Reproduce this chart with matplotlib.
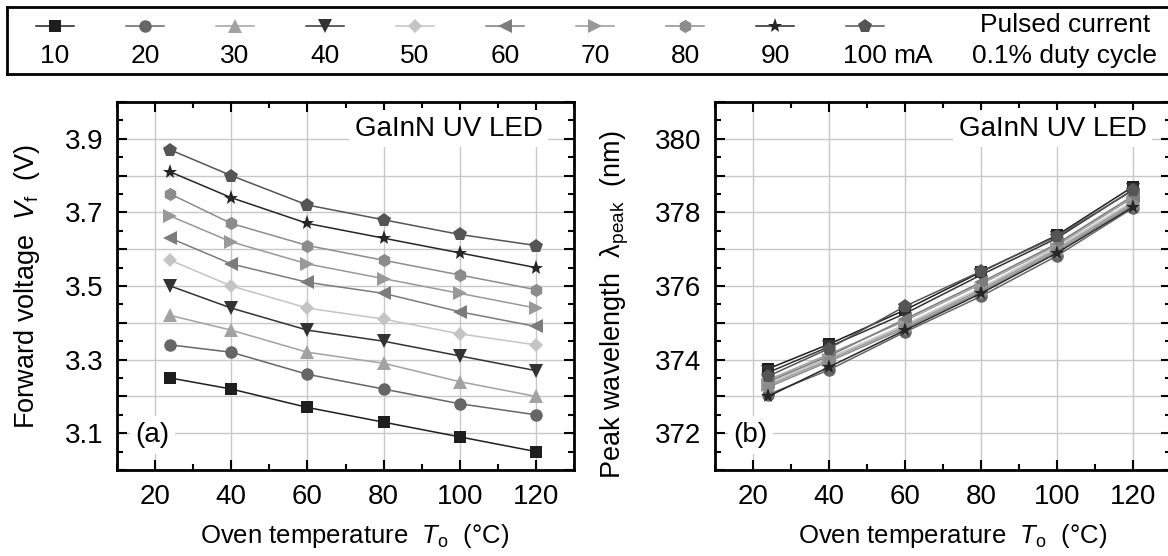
import matplotlib
matplotlib.use('Agg')
import matplotlib.pyplot as plt
from matplotlib.ticker import MultipleLocator, FuncFormatter

plt.rcParams['font.family'] = ['Liberation Sans', 'DejaVu Sans']
plt.rcParams['mathtext.fontset'] = 'custom'
plt.rcParams['mathtext.rm'] = 'Liberation Sans'
plt.rcParams['mathtext.it'] = 'Liberation Sans:italic'

# oven temperatures (deg C)
temps = [24, 40, 60, 80, 100, 120]
currents = [10, 20, 30, 40, 50, 60, 70, 80, 90, 100]

# forward voltage (V) per current
vf_10 = [3.25, 3.22, 3.17, 3.13, 3.09, 3.05]
vf_20 = [3.34, 3.32, 3.26, 3.22, 3.18, 3.15]
vf_30 = [3.42, 3.38, 3.32, 3.29, 3.24, 3.20]
vf_40 = [3.50, 3.44, 3.38, 3.35, 3.31, 3.27]
vf_50 = [3.57, 3.50, 3.44, 3.41, 3.37, 3.34]
vf_60 = [3.63, 3.56, 3.51, 3.48, 3.43, 3.39]
vf_70 = [3.69, 3.62, 3.56, 3.52, 3.48, 3.44]
vf_80 = [3.75, 3.67, 3.61, 3.57, 3.53, 3.49]
vf_90 = [3.81, 3.74, 3.67, 3.63, 3.59, 3.55]
vf_100 = [3.87, 3.80, 3.72, 3.68, 3.64, 3.61]

# peak wavelength (nm) per current
lp_10 = [373.75, 374.42, 375.35, 376.38, 377.38, 378.70]
lp_20 = [373.05, 373.72, 374.75, 375.72, 376.82, 378.12]
lp_30 = [373.45, 374.15, 375.05, 376.05, 377.10, 378.40]
lp_40 = [373.65, 374.35, 375.25, 376.30, 377.30, 378.62]
lp_50 = [373.35, 374.05, 374.95, 375.95, 377.05, 378.30]
lp_60 = [373.40, 374.10, 375.10, 376.10, 377.15, 378.45]
lp_70 = [373.30, 374.00, 374.90, 375.90, 377.00, 378.25]
lp_80 = [373.25, 373.95, 374.85, 375.85, 376.95, 378.20]
lp_90 = [373.00, 373.80, 374.80, 375.80, 376.90, 378.15]
lp_100 = [373.55, 374.30, 375.45, 376.40, 377.35, 378.60]

vf_all = [vf_10, vf_20, vf_30, vf_40, vf_50, vf_60, vf_70, vf_80, vf_90, vf_100]
lp_all = [lp_10, lp_20, lp_30, lp_40, lp_50, lp_60, lp_70, lp_80, lp_90, lp_100]

markers = ['s', 'o', '^', 'v', 'D', '<', '>', 'h', '*', 'p']
msizes = [8, 9, 9.5, 9.5, 7, 9.5, 9.5, 9.5, 11, 10.5]
colors = ['#1e1e1e', '#666666', '#a2a2a2', '#333333', '#c4c4c4',
          '#7c7c7c', '#999999', '#8c8c8c', '#262626', '#555555']

fig = plt.figure(figsize=(11.68, 5.56), dpi=100)
ax_a = fig.add_axes([117 / 1168, 1 - 470 / 556, 457 / 1168, 368 / 556])
ax_b = fig.add_axes([715 / 1168, 1 - 470 / 556, 456 / 1168, 368 / 556])


def style_axis(ax, ystep, ymin, ymax, label_every):
    ax.set_xlim(10, 130)
    ax.set_ylim(ymin, ymax)
    ax.xaxis.set_major_locator(MultipleLocator(20))
    ax.xaxis.set_minor_locator(MultipleLocator(10))
    ax.yaxis.set_major_locator(MultipleLocator(ystep))
    ax.yaxis.set_minor_locator(MultipleLocator(ystep / 2))
    ax.yaxis.set_major_formatter(FuncFormatter(label_every))
    ax.grid(True, which='major', color='#c8c8c8', lw=1)
    ax.set_axisbelow(True)
    ax.tick_params(which='both', direction='in', top=True, right=True,
                   width=1.5, labelsize=20)
    ax.tick_params(which='major', length=7, pad=10)
    ax.tick_params(which='minor', length=4)
    for sp in ax.spines.values():
        sp.set_linewidth(2)
    ax.set_xlabel('Oven temperature  $T_\\mathrm{o}$  (°C)', fontsize=18.5)
    ax.xaxis.set_label_coords(0.52, -0.14)


for vals, m, ms, c in zip(vf_all, markers, msizes, colors):
    ax_a.plot(temps, vals, color=c, marker=m, markersize=ms, lw=1.1,
              markeredgewidth=0)
for vals, m, ms, c in zip(lp_all, markers, msizes, colors):
    ax_b.plot(temps, vals, color=c, marker=m, markersize=ms, lw=1.1,
              markeredgewidth=0)

style_axis(ax_a, 0.1, 3.0, 4.0,
           lambda v, p: f'{v:.1f}' if round(v * 10) % 2 == 1 else '')
style_axis(ax_b, 1, 371, 381,
           lambda v, p: f'{v:.0f}' if round(v) % 2 == 0 else '')

ax_a.set_ylabel('Forward voltage  $V_\\mathrm{f}$  (V)', fontsize=19.5)
ax_a.yaxis.set_label_coords(-0.165, 0.50)
ax_b.set_ylabel('Peak wavelength  λ$_\\mathrm{peak}$  (nm)', fontsize=19.5)
ax_b.yaxis.set_label_coords(-0.185, 0.45)

box = dict(facecolor='white', edgecolor='none', pad=4)
for ax, tag, tx in [(ax_a, '(a)', 0.932), (ax_b, '(b)', 0.947)]:
    ax.text(tx, 0.927, 'GaInN UV LED', transform=ax.transAxes, ha='right',
            va='center', fontsize=20, bbox=box)
    ax.text(0.04, 0.095, tag, transform=ax.transAxes, ha='left',
            va='center', fontsize=20, bbox=box)

# legend strip across the top
lax = fig.add_axes([7 / 1168, 1 - 74 / 556, 1.01, 67 / 556])
lax.set_xlim(7, 7 + 1.01 * 1168)
lax.set_ylim(74, 7)
lax.set_xticks([])
lax.set_yticks([])
for sp in lax.spines.values():
    sp.set_linewidth(2)

for i, (cur, m, ms, c) in enumerate(zip(currents, markers, msizes, colors)):
    xc = 55 + i * 90
    lax.plot([xc - 19, xc + 19], [26, 26], color=c, lw=1.1)
    lax.plot([xc], [26], color=c, marker=m, markersize=ms, markeredgewidth=0)
    lax.text(xc, 56, str(cur), ha='center', va='center', fontsize=19)
lax.text(55 + 9 * 90 + 28, 56, 'mA', ha='left', va='center', fontsize=19)
lax.text(1065, 25, 'Pulsed current', ha='center', va='center', fontsize=19)
lax.text(1065, 56, '0.1% duty cycle', ha='center', va='center', fontsize=19)

fig.savefig('out.png', dpi=100)
